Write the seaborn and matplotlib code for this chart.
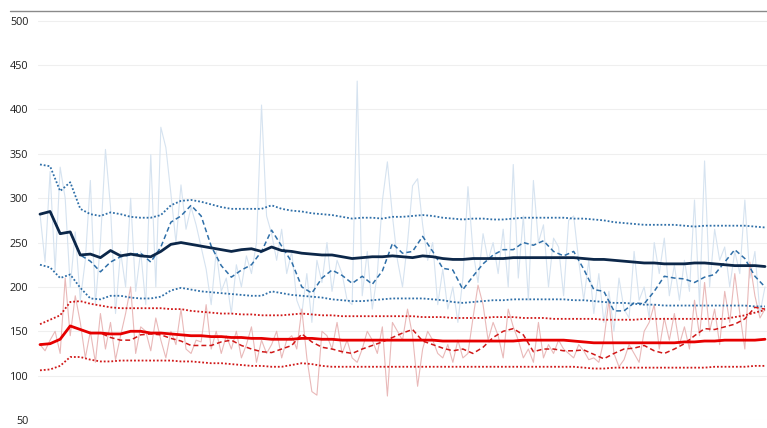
import numpy as np
import pandas as pd
import matplotlib
matplotlib.use("Agg")
import matplotlib.pyplot as plt
import seaborn as sns

# daily raw values (day 0..144)
blue_raw = [282, 228, 330, 218, 335, 300, 200, 262, 185, 230,
            320, 180, 250, 355, 290, 170, 240, 200, 300, 195,
            240, 180, 349, 200, 380, 357, 305, 250, 315, 265,
            290, 270, 245, 220, 180, 240, 195, 210, 170, 225,
            200, 235, 215, 250, 405, 280, 260, 230, 265, 215,
            240, 185, 170, 215, 160, 230, 205, 250, 195, 230,
            215, 185, 180, 432, 190, 240, 175, 215, 297, 341,
            280, 230, 200, 250, 314, 322, 270, 230, 250, 180,
            220, 175, 200, 160, 210, 313, 240, 205, 260, 230,
            250, 215, 265, 200, 338, 210, 280, 185, 320, 250,
            270, 200, 255, 245, 190, 275, 280, 230, 185, 230,
            170, 215, 160, 195, 150, 210, 175, 165, 240, 185,
            200, 165, 250, 215, 255, 190, 225, 185, 230, 195,
            298, 180, 342, 200, 265, 230, 245, 200, 240, 215,
            298, 210, 240, 170, 200]

red_raw = [135, 128, 140, 150, 125, 210, 145, 190, 160, 120,
           150, 115, 170, 130, 160, 118, 145, 170, 200, 125,
           155, 150, 128, 165, 140, 120, 150, 135, 175, 130,
           125, 140, 138, 180, 130, 150, 125, 145, 130, 150,
           120, 135, 155, 115, 140, 125, 135, 150, 120, 140,
           145, 130, 175, 120, 82, 78, 150, 145, 130, 160,
           125, 140, 120, 115, 130, 150, 140, 125, 155, 77,
           160, 150, 140, 175, 145, 88, 130, 150, 140, 125,
           120, 135, 115, 140, 120, 125, 165, 202, 180, 140,
           160, 145, 120, 175, 155, 140, 120, 130, 115, 160,
           120, 135, 125, 140, 130, 125, 120, 135, 128, 118,
           120, 115, 140, 185, 125, 110, 118, 135, 125, 115,
           150, 160, 180, 130, 165, 140, 170, 135, 155, 130,
           185, 145, 205, 150, 175, 135, 195, 160, 215, 170,
           130, 228, 190, 165, 175]

# smoothed series sampled every 2 days (day 0, 2, ..., 144)
blue_mean = [282, 285, 260, 262, 236, 237, 233, 241, 235, 237,
             235, 234, 240, 248, 250, 248, 246, 244, 242, 240,
             242, 243, 240, 245, 241, 240, 238, 237, 236, 236,
             234, 232, 233, 234, 234, 235, 234, 233, 235, 234,
             232, 231, 231, 232, 232, 232, 232, 233, 233, 233,
             233, 233, 233, 233, 232, 231, 231, 230, 229, 228,
             227, 227, 226, 226, 226, 227, 227, 226, 225, 224,
             224, 224, 223]

blue_upper = [338, 336, 308, 318, 288, 282, 280, 284, 282, 279,
              278, 278, 281, 292, 297, 298, 296, 293, 290, 288,
              288, 288, 288, 292, 288, 286, 285, 283, 282, 281,
              279, 277, 278, 278, 277, 279, 279, 280, 281, 280,
              278, 277, 276, 277, 277, 276, 276, 277, 278, 278,
              278, 278, 278, 277, 277, 276, 275, 273, 272, 271,
              270, 270, 270, 270, 269, 268, 269, 269, 269, 269,
              269, 268, 267]

blue_lower = [225, 222, 210, 214, 199, 187, 186, 190, 190, 188,
              187, 187, 189, 196, 199, 197, 195, 194, 193, 192,
              191, 190, 190, 195, 193, 191, 190, 189, 188, 186,
              185, 184, 184, 185, 186, 187, 187, 187, 187, 186,
              185, 183, 182, 183, 184, 185, 185, 186, 186, 186,
              186, 186, 186, 185, 185, 184, 183, 182, 182, 181,
              180, 180, 179, 179, 179, 179, 179, 179, 179, 179,
              179, 178, 178]

blue_ma = [282, 285, 260, 262, 236, 229, 217, 228, 234, 236,
           238, 228, 245, 273, 280, 292, 280, 246, 224, 211,
           219, 225, 240, 264, 246, 228, 200, 193, 210, 219,
           213, 204, 212, 203, 218, 249, 238, 240, 257, 240,
           221, 219, 197, 212, 226, 236, 242, 242, 250, 247,
           252, 240, 235, 240, 220, 197, 195, 173, 173, 182,
           181, 195, 212, 210, 209, 205, 211, 214, 228, 242,
           232, 212, 200]

red_mean = [135, 136, 141, 156, 152, 148, 148, 147, 147, 150,
            150, 148, 148, 147, 146, 145, 145, 144, 144, 143,
            143, 142, 142, 141, 141, 141, 142, 142, 141, 141,
            140, 140, 140, 140, 140, 140, 140, 140, 140, 140,
            139, 139, 139, 139, 139, 139, 139, 139, 140, 140,
            140, 140, 140, 139, 138, 137, 137, 137, 137, 137,
            137, 137, 137, 137, 138, 138, 139, 139, 140, 140,
            140, 140, 141]

red_upper = [158, 163, 168, 183, 184, 181, 179, 177, 176, 176,
             176, 176, 176, 175, 175, 173, 172, 171, 170, 170,
             169, 169, 168, 168, 168, 169, 170, 169, 168, 168,
             167, 167, 167, 167, 167, 167, 167, 167, 166, 166,
             166, 165, 165, 165, 165, 166, 166, 166, 165, 165,
             165, 164, 164, 164, 164, 164, 163, 163, 163, 163,
             164, 164, 164, 164, 164, 164, 164, 164, 164, 166,
             168, 171, 174]

red_lower = [106, 107, 111, 121, 121, 118, 116, 116, 117, 117,
             117, 117, 117, 117, 116, 116, 115, 114, 114, 113,
             112, 111, 111, 110, 110, 112, 114, 113, 111, 110,
             110, 110, 110, 110, 110, 110, 110, 110, 110, 110,
             110, 110, 110, 110, 110, 110, 110, 110, 110, 110,
             110, 110, 110, 110, 109, 108, 108, 109, 109, 109,
             109, 109, 109, 109, 109, 109, 109, 110, 110, 110,
             110, 111, 111]

red_ma = [135, 136, 141, 156, 152, 148, 148, 143, 140, 140,
          146, 147, 146, 142, 139, 134, 134, 134, 138, 140,
          134, 130, 127, 126, 130, 134, 147, 138, 132, 130,
          127, 125, 130, 134, 138, 143, 148, 152, 139, 135,
          131, 128, 130, 125, 132, 143, 150, 153, 146, 127,
          130, 130, 128, 128, 129, 124, 119, 125, 130, 131,
          134, 128, 125, 130, 136, 145, 153, 152, 155, 158,
          164, 177, 175]

y_ticks = [50, 100, 150, 200, 250, 300, 350, 400, 450, 500]

days = np.arange(len(blue_raw))
ma_days = np.arange(0, len(blue_raw), 2)

sns.set_style("white")
plt.rcParams["font.family"] = ["Open Sans", "DejaVu Sans"]

fig = plt.figure(figsize=(7.67, 4.28), dpi=100)
ax = fig.add_axes([38 / 767, 8 / 428, 729 / 767, 409 / 428])

light_blue = "#d6e3f0"
mid_blue = "#2f6fa8"
navy = "#0c2749"
light_red = "#e9b9b9"
mid_red = "#d01818"
red = "#e60000"
dotted = (0, (1, 1.1))
dashed = (0, (3.2, 2))

# raw daily lines
sns.lineplot(x=days, y=blue_raw, ax=ax, color=light_blue, linewidth=0.8)
sns.lineplot(x=days, y=red_raw, ax=ax, color=light_red, linewidth=0.8)

# bounds
for vals, col in [(blue_upper, mid_blue), (blue_lower, mid_blue),
                  (red_upper, mid_red), (red_lower, mid_red)]:
    sns.lineplot(x=ma_days, y=vals, ax=ax, color=col, linewidth=1.3,
                 linestyle=dotted)

# moving averages
sns.lineplot(x=ma_days, y=blue_ma, ax=ax, color=mid_blue, linewidth=1.1,
             linestyle=dashed)
sns.lineplot(x=ma_days, y=red_ma, ax=ax, color=mid_red, linewidth=1.1,
             linestyle=dashed)

# running means
sns.lineplot(x=ma_days, y=blue_mean, ax=ax, color=navy, linewidth=2.0)
sns.lineplot(x=ma_days, y=red_mean, ax=ax, color=red, linewidth=2.0)

ax.set_xlim(-0.4, days[-1] + 0.4)
ax.set_ylim(50, 511)
ax.set_yticks(y_ticks)
ax.set_yticklabels([str(t) for t in y_ticks], fontsize=7.8, color="#1e1e1e")
ax.set_xticks([])
ax.tick_params(axis="y", length=0, pad=7)
ax.yaxis.grid(True, color="#efefef", linewidth=0.8)
ax.set_axisbelow(True)
for side in ["left", "right", "bottom", "top"]:
    ax.spines[side].set_visible(False)
ax.set_xlabel("")
ax.set_ylabel("")

# thin rule across the top of the chart
fig.add_artist(plt.Line2D([10 / 767, 1], [417 / 428, 417 / 428],
                          color="#8a8a8a", linewidth=1.0))

fig.savefig("out.png", dpi=100)
